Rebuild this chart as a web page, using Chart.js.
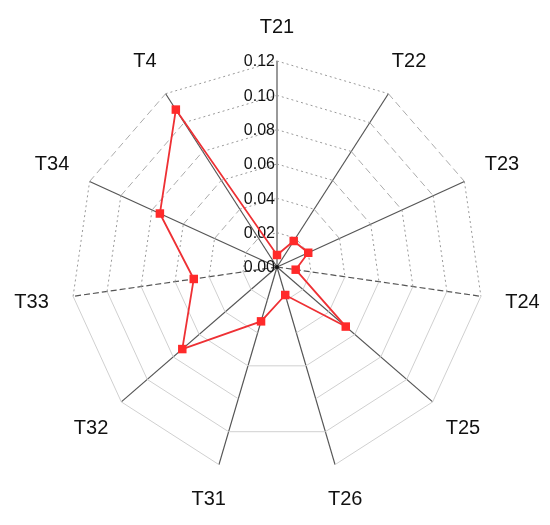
<!DOCTYPE html>
<html>
<head>
<meta charset="utf-8">
<script src="https://cdn.jsdelivr.net/npm/chart.js@4.4.0/dist/chart.umd.min.js"></script>
<style>
  html, body { margin: 0; padding: 0; background: #fff; }
  #wrap { width: 550px; height: 525px; }
</style>
</head>
<body>
<div id="wrap"><canvas id="myChart"></canvas></div>
<script>
var etiquetas = ["T21", "T22", "T23", "T24", "T25", "T26", "T31", "T32", "T33", "T34", "T4"];
var valores = [0.007, 0.018, 0.020, 0.011, 0.053, 0.017, 0.033, 0.073, 0.049, 0.075, 0.109];
var marcas = [0.00, 0.02, 0.04, 0.06, 0.08, 0.10, 0.12];

// estilo del tramo de anillo que sale de cada eje hacia el siguiente
var tramos = ["dot", "dash", "dot", "solid", "solid", "gap", "solid", "solid", "dot", "dash", "dot"];
var ejesDiscontinuos = ["T24", "T33"];

var ctx = document.getElementById("myChart");
var fuente = "'Liberation Sans', Arial, sans-serif";

var rejilla = {
  id: "rejilla",
  beforeDatasetsDraw(chart) {
    var s = chart.scales.r;
    var c = chart.ctx;
    var n = etiquetas.length;
    c.save();
    c.lineWidth = 1;
    for (var i = 0; i < n; i++) {
      var tipo = tramos[i];
      if (tipo == "dot") { c.setLineDash([2, 3]); c.strokeStyle = "#999999"; }
      else if (tipo == "dash") { c.setLineDash([7, 4]); c.strokeStyle = "#ababab"; }
      else { c.setLineDash([]); c.strokeStyle = "#d0d0d0"; }
      for (var k = 1; k < marcas.length; k++) {
        var v = marcas[k];
        // entre T26 y T31 solo aparecen dos anillos
        if (tipo == "gap" && v != 0.06 && v != 0.10) continue;
        var a = s.getPointPositionForValue(i, v);
        var b = s.getPointPositionForValue((i + 1) % n, v);
        c.beginPath();
        c.moveTo(a.x, a.y);
        c.lineTo(b.x, b.y);
        c.stroke();
      }
    }

    // etiquetas del eje, a la izquierda del eje T21
    c.setLineDash([]);
    c.fillStyle = "#111";
    c.font = "16px " + fuente;
    c.textAlign = "right";
    c.textBaseline = "middle";
    s.ticks.forEach(function (t) {
      var p = s.getPointPositionForValue(0, t.value);
      c.fillText(t.label, p.x - 2, p.y + 1);
    });

    c.beginPath();
    c.arc(s.xCenter, s.yCenter, 2, 0, Math.PI * 2);
    c.fill();

    // nombres de los ejes, centrados fuera del anillo exterior
    c.font = "20px " + fuente;
    c.textAlign = "center";
    for (var j = 0; j < n; j++) {
      var q = s.getPointPosition(j, 0);
      var d = s.drawingArea + 34 + 8 * Math.abs(Math.cos(q.angle));
      var e = s.getPointPosition(j, d);
      c.fillText(etiquetas[j], e.x, e.y);
    }
    c.restore();
  }
};

var myChart = new Chart(ctx, {
  type: "radar",
  data: {
    labels: etiquetas,
    datasets: [
      {
        label: "serie",
        data: valores,
        borderColor: "#ee3034",
        backgroundColor: "#ff2a2a",
        borderWidth: 1.8,
        fill: false,
        pointStyle: "rect",
        pointRadius: 6,
        pointHoverRadius: 6,
        pointBorderWidth: 0,
      },
    ],
  },
  options: {
    responsive: true,
    maintainAspectRatio: false,
    animation: false,
    layout: { padding: { top: 61, bottom: 52, left: 71, right: 67 } },
    plugins: {
      legend: { display: false },
      tooltip: { enabled: false },
    },
    scales: {
      r: {
        min: 0,
        max: 0.12,
        ticks: {
          stepSize: 0.02,
          display: false,
          callback: function (v) { return v.toFixed(2); },
        },
        grid: { display: false },
        angleLines: {
          display: true,
          color: "#555555",
          lineWidth: 1.2,
          borderDash: function (c) {
            return ejesDiscontinuos.indexOf(etiquetas[c.index]) >= 0 ? [6, 3] : [];
          },
        },
        pointLabels: { display: false },
      },
    },
  },
  plugins: [rejilla],
});
</script>
</body>
</html>
